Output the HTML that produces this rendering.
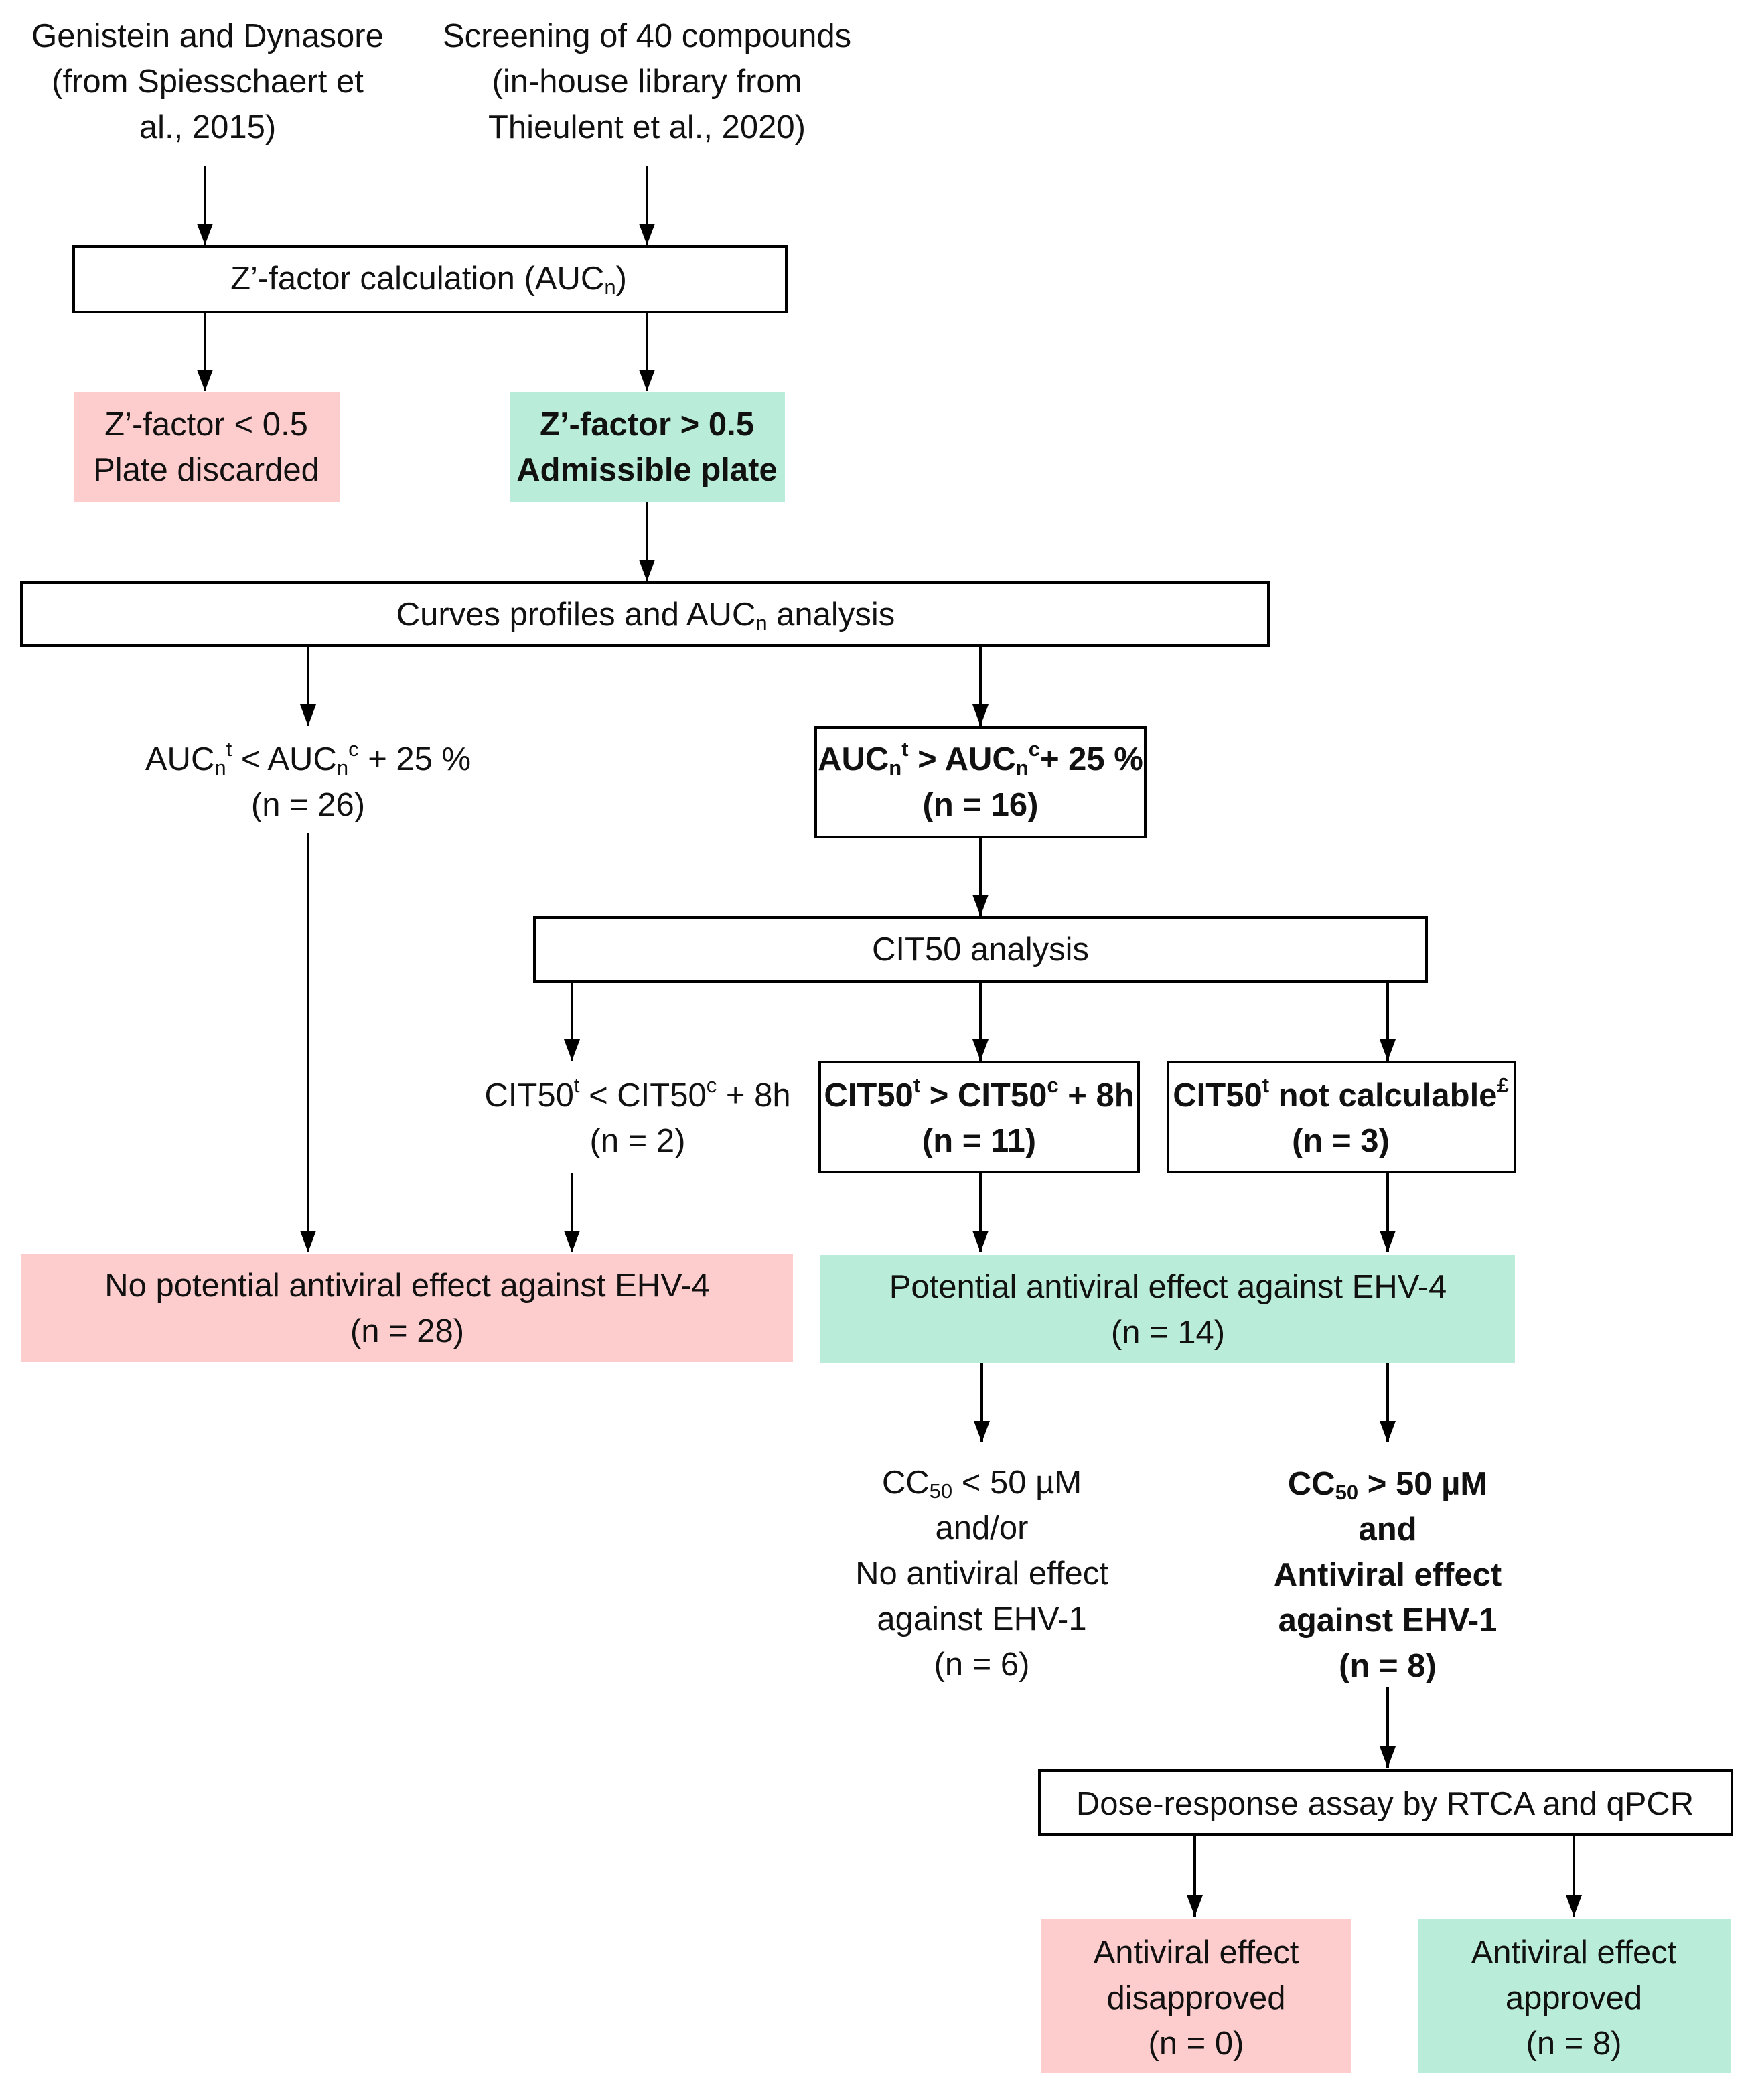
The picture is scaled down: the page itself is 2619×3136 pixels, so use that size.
<!DOCTYPE html>
<html><head><meta charset="utf-8"><style>
html,body{margin:0;padding:0;background:#fff;}
svg{display:block;}
text{font-family:"Liberation Sans",sans-serif;font-size:24.5px;fill:#111;text-anchor:middle;dominant-baseline:central;}
.b{font-weight:bold;}
.s{font-size:15.5px;}
</style></head><body>
<svg width="2619" height="3136" viewBox="0 0 1309.5 1568" xmlns="http://www.w3.org/2000/svg">
<defs>
<marker id="h" viewBox="0 0 16 12" markerWidth="16" markerHeight="12" refX="16" refY="6" orient="auto" markerUnits="userSpaceOnUse"><path d="M0,0 L16,6 L0,12 z" fill="#000"/></marker></defs>
<g stroke="#000" stroke-width="2" marker-end="url(#h)">
<line x1="153" y1="124" x2="153" y2="183"/><line x1="483" y1="124" x2="483" y2="183"/>
<line x1="153" y1="233" x2="153" y2="292"/><line x1="483" y1="233" x2="483" y2="292"/>
<line x1="483" y1="375" x2="483" y2="434"/>
<line x1="230" y1="482" x2="230" y2="542"/><line x1="732" y1="482" x2="732" y2="542"/>
<line x1="230" y1="622" x2="230" y2="935"/><line x1="732" y1="625" x2="732" y2="684"/>
<line x1="427" y1="733" x2="427" y2="792"/><line x1="732" y1="733" x2="732" y2="792"/><line x1="1036" y1="733" x2="1036" y2="792"/>
<line x1="427" y1="876" x2="427" y2="935"/><line x1="732" y1="875" x2="732" y2="935"/><line x1="1036" y1="875" x2="1036" y2="935"/>
<line x1="733" y1="1018" x2="733" y2="1077"/><line x1="1036" y1="1018" x2="1036" y2="1077"/>
<line x1="1036" y1="1260" x2="1036" y2="1320"/>
<line x1="892" y1="1370" x2="892" y2="1431"/><line x1="1175" y1="1370" x2="1175" y2="1431"/>
</g>
<g stroke="#000" stroke-width="2" fill="#fff">
<rect x="55" y="184" width="532" height="49"/>
<rect x="16" y="435" width="931" height="47"/>
<rect x="609" y="543" width="246" height="82"/>
<rect x="399" y="685" width="666" height="48"/>
<rect x="612" y="793" width="238" height="82"/>
<rect x="872" y="793" width="259" height="82"/>
<rect x="776" y="1322" width="517" height="48"/>
</g>
<g stroke="none">
<rect x="55" y="293" width="199" height="82" fill="#fdcccc"/>
<rect x="381" y="293" width="205" height="82" fill="#b9ecd9"/>
<rect x="16" y="936" width="576" height="81" fill="#fdcccc"/>
<rect x="612" y="937" width="519" height="81" fill="#b9ecd9"/>
<rect x="777" y="1433" width="232" height="115" fill="#fdcccc"/>
<rect x="1059" y="1433" width="233" height="115" fill="#b9ecd9"/>
</g>
<text x="155" y="27">Genistein and Dynasore</text>
<text x="155" y="61">(from Spiesschaert et</text>
<text x="155" y="95">al., 2015)</text>
<text x="483" y="27">Screening of 40 compounds</text>
<text x="483" y="61">(in-house library from</text>
<text x="483" y="95">Thieulent et al., 2020)</text>
<text x="320" y="208">Z’-factor calculation (AUC<tspan class="s" dy="6">n</tspan><tspan dy="-6">)</tspan></text>
<text x="154" y="317">Z’-factor &lt; 0.5</text>
<text x="154" y="351">Plate discarded</text>
<text class="b" x="483" y="317">Z’-factor &gt; 0.5</text>
<text class="b" x="483" y="351">Admissible plate</text>
<text x="482" y="459">Curves profiles and AUC<tspan class="s" dy="6">n</tspan><tspan dy="-6"> analysis</tspan></text>
<text x="230" y="567">AUC<tspan class="s" dy="6">n</tspan><tspan class="s" dy="-14">t</tspan><tspan dy="8"> &lt; AUC</tspan><tspan class="s" dy="6">n</tspan><tspan class="s" dy="-14">c</tspan><tspan dy="8"> + 25 %</tspan></text>
<text x="230" y="601">(n = 26)</text>
<text class="b" x="732" y="567">AUC<tspan class="s" dy="6">n</tspan><tspan class="s" dy="-14">t</tspan><tspan dy="8"> &gt; AUC</tspan><tspan class="s" dy="6">n</tspan><tspan class="s" dy="-14">c</tspan><tspan dy="8">+ 25 %</tspan></text>
<text class="b" x="732" y="601">(n = 16)</text>
<text x="732" y="709">CIT50 analysis</text>
<text x="476" y="818">CIT50<tspan class="s" dy="-8">t</tspan><tspan dy="8"> &lt; CIT50</tspan><tspan class="s" dy="-8">c</tspan><tspan dy="8"> + 8h</tspan></text>
<text x="476" y="852">(n = 2)</text>
<text class="b" x="731" y="818">CIT50<tspan class="s" dy="-8">t</tspan><tspan dy="8"> &gt; CIT50</tspan><tspan class="s" dy="-8">c</tspan><tspan dy="8"> + 8h</tspan></text>
<text class="b" x="731" y="852">(n = 11)</text>
<text class="b" x="1001" y="818">CIT50<tspan class="s" dy="-8">t</tspan><tspan dy="8"> not calculable</tspan><tspan class="s" dy="-8">£</tspan></text>
<text class="b" x="1001" y="852">(n = 3)</text>
<text x="304" y="960">No potential antiviral effect against EHV-4</text>
<text x="304" y="994">(n = 28)</text>
<text x="872" y="961">Potential antiviral effect against EHV-4</text>
<text x="872" y="995">(n = 14)</text>
<text x="733" y="1107">CC<tspan class="s" dy="6">50</tspan><tspan dy="-6"> &lt; 50 µM</tspan></text>
<text x="733" y="1141">and/or</text>
<text x="733" y="1175">No antiviral effect</text>
<text x="733" y="1209">against EHV-1</text>
<text x="733" y="1243">(n = 6)</text>
<text class="b" x="1036" y="1108">CC<tspan class="s" dy="6">50</tspan><tspan dy="-6"> &gt; 50 µM</tspan></text>
<text class="b" x="1036" y="1142">and</text>
<text class="b" x="1036" y="1176">Antiviral effect</text>
<text class="b" x="1036" y="1210">against EHV-1</text>
<text class="b" x="1036" y="1244">(n = 8)</text>
<text x="1034" y="1347">Dose-response assay by RTCA and qPCR</text>
<text x="893" y="1458">Antiviral effect</text>
<text x="893" y="1492">disapproved</text>
<text x="893" y="1526">(n = 0)</text>
<text x="1175" y="1458">Antiviral effect</text>
<text x="1175" y="1492">approved</text>
<text x="1175" y="1526">(n = 8)</text>
</svg>
</body></html>
